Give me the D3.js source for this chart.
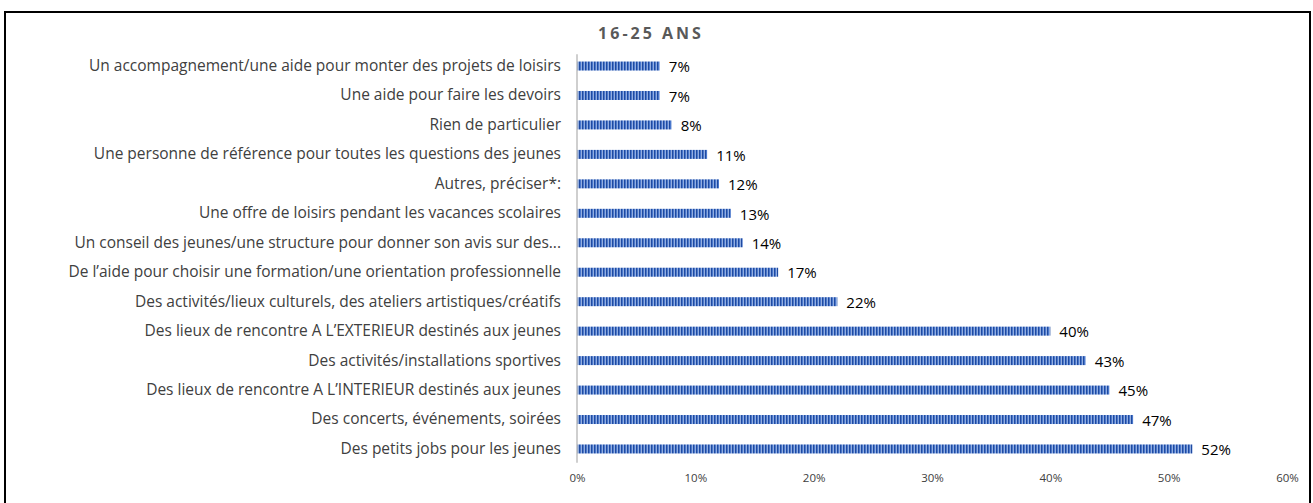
<!DOCTYPE html>
<html>
<head>
<meta charset="utf-8">
<script src="https://cdn.jsdelivr.net/npm/d3@7"></script>
<style>
  html, body { margin: 0; padding: 0; background: #fff; }
  svg { display: block; }
</style>
</head>
<body>
<svg id="chart" width="1313" height="503"></svg>
<script>
const categories = [
  "Un accompagnement/une aide pour monter des projets de loisirs",
  "Une aide pour faire les devoirs",
  "Rien de particulier",
  "Une personne de référence pour toutes les questions des jeunes",
  "Autres, préciser*:",
  "Une offre de loisirs pendant les vacances scolaires",
  "Un conseil des jeunes/une structure pour donner son avis sur des...",
  "De l’aide pour choisir une formation/une orientation professionnelle",
  "Des activités/lieux culturels, des ateliers artistiques/créatifs",
  "Des lieux de rencontre A L’EXTERIEUR destinés aux jeunes",
  "Des activités/installations sportives",
  "Des lieux de rencontre A L’INTERIEUR destinés aux jeunes",
  "Des concerts, événements, soirées",
  "Des petits jobs pour les jeunes"
];
const values = [7, 7, 8, 11, 12, 13, 14, 17, 22, 40, 43, 45, 47, 52];
const tickValues = [0, 10, 20, 30, 40, 50, 60];
const title = "16-25 ANS";

const svg = d3.select("#chart");
const font = "'Open Sans', 'Noto Sans', sans-serif";

// frame
svg.append("rect").attr("x", 5).attr("y", 12).attr("width", 1305).attr("height", 500)
  .attr("fill", "#fff").attr("stroke", "#000").attr("stroke-width", 2);

// stripe pattern
const defs = svg.append("defs");
const pat = defs.append("pattern").attr("id", "stripes").attr("patternUnits", "userSpaceOnUse")
  .attr("width", 3).attr("height", 10);
pat.append("rect").attr("width", 3).attr("height", 10).attr("fill", "#4a78cc");
pat.append("rect").attr("x", 0).attr("width", 1).attr("height", 10).attr("fill", "#1f4aa0");
pat.append("rect").attr("x", 2).attr("width", 1).attr("height", 10).attr("fill", "#93aee0");

const x = d3.scaleLinear().domain([0, 60]).range([577, 1287]);
const y = d3.scaleBand().domain(categories).range([51.3, 463.7]).paddingInner(0.68).paddingOuter(0.34);

// title
svg.append("text").attr("x", 651).attr("y", 39).attr("text-anchor", "middle")
  .attr("font-family", font).attr("font-size", 16).attr("font-weight", "bold")
  .attr("letter-spacing", 3).attr("fill", "#595959").text(title);

// bars
svg.append("g").selectAll("rect").data(values).join("rect")
  .attr("x", x(0)).attr("y", (d, i) => y(categories[i]) + y.bandwidth() / 2 - 4.5)
  .attr("width", d => x(d) - x(0)).attr("height", 9)
  .attr("fill", "url(#stripes)");

// value labels
svg.append("g").selectAll("text").data(values).join("text")
  .attr("x", d => x(d) + 9).attr("y", (d, i) => y(categories[i]) + y.bandwidth() / 2 + 1)
  .attr("dy", "0.35em").attr("font-family", font).attr("font-size", 15).attr("fill", "#000")
  .text(d => d + "%");

// y axis
const yAxis = d3.axisLeft(y).tickSize(0).tickPadding(16);
const gy = svg.append("g").attr("transform", `translate(${x(0)},0)`).call(yAxis);
gy.select(".domain").attr("stroke", "#bfbfbf").attr("stroke-width", 1.5)
  .attr("d", `M0,${y.range()[0] + 3}V${y.range()[1] - 1}`);
gy.selectAll("text").attr("font-family", font).attr("font-size", 15.5).attr("fill", "#404040");

// x axis (labels only)
const xAxis = d3.axisBottom(x).tickValues(tickValues).tickSize(0).tickPadding(0)
  .tickFormat(d => d + "%");
const gx = svg.append("g").attr("transform", "translate(0,474)").call(xAxis);
gx.select(".domain").remove();
gx.selectAll("text").attr("font-family", font).attr("font-size", 11.5).attr("fill", "#404040");
</script>
</body>
</html>
